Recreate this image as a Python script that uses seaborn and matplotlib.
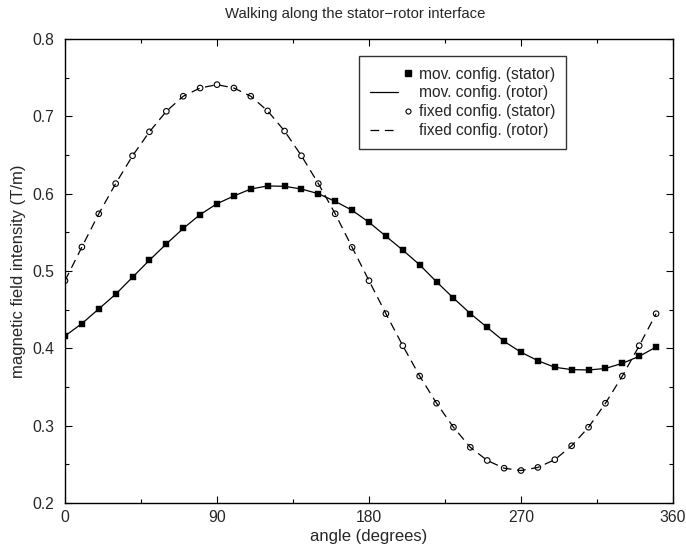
import numpy as np
import pandas as pd
import matplotlib
matplotlib.use("Agg")
import matplotlib.pyplot as plt
from matplotlib.lines import Line2D
from matplotlib.legend_handler import HandlerLine2D
from matplotlib.ticker import MultipleLocator
import seaborn as sns

# Sample angles along the interface (degrees)
angles = list(range(0, 360, 10))

# Moving configuration, field sampled on the stator side
mov_stator = [0.416, 0.432, 0.451, 0.470, 0.492, 0.514, 0.535, 0.555, 0.573, 0.587,
              0.597, 0.606, 0.610, 0.6095, 0.606, 0.600, 0.590, 0.5785, 0.563, 0.545,
              0.527, 0.508, 0.486, 0.465, 0.445, 0.427, 0.409, 0.395, 0.384, 0.3755,
              0.3725, 0.372, 0.374, 0.3806, 0.3897, 0.4017]
# Moving configuration, rotor side
mov_rotor = list(mov_stator)

# Fixed configuration, stator side
fixed_stator = [0.4875, 0.531, 0.574, 0.613, 0.649, 0.680, 0.7065, 0.726, 0.7366, 0.741,
                0.7366, 0.726, 0.707, 0.681, 0.649, 0.613, 0.574, 0.5306, 0.4875, 0.4448,
                0.4034, 0.3642, 0.329, 0.298, 0.272, 0.255, 0.245, 0.242, 0.246, 0.256,
                0.274, 0.298, 0.329, 0.3642, 0.4034, 0.4448]
# Fixed configuration, rotor side
fixed_rotor = list(fixed_stator)

labels = ["mov. config. (stator)", "mov. config. (rotor)",
          "fixed config. (stator)", "fixed config. (rotor)"]
x_ticks = [0, 90, 180, 270, 360]
y_ticks = [0.2, 0.3, 0.4, 0.5, 0.6, 0.7, 0.8]

sns.set_style("ticks")
plt.rcParams["font.family"] = ["Liberation Sans", "DejaVu Sans"]

df = pd.DataFrame({"angle": angles, "mov_stator": mov_stator, "mov_rotor": mov_rotor,
                   "fixed_stator": fixed_stator, "fixed_rotor": fixed_rotor})

fig = plt.figure(figsize=(6.86, 5.47), dpi=100)
ax = fig.add_axes([65 / 686, 44 / 547, 608 / 686, 464 / 547])

# Rotor curves
sns.lineplot(data=df, x="angle", y="mov_rotor", ax=ax, color="black", lw=0.9,
             linestyle="-", errorbar=None)
sns.lineplot(data=df, x="angle", y="fixed_rotor", ax=ax, color="black", lw=0.9,
             dashes=False, errorbar=None)
ax.lines[-1].set_dashes((7, 4.5))

# Stator samples
sns.scatterplot(data=df, x="angle", y="mov_stator", ax=ax, marker="s", s=18,
                color="black", edgecolor="black", linewidth=0.3, zorder=3)
sns.scatterplot(data=df, x="angle", y="fixed_stator", ax=ax, marker="o", s=16,
                facecolor="none", edgecolor="black", linewidth=0.8, zorder=3)

ax.set_xlim(0, 360)
ax.set_ylim(0.2, 0.8)
ax.set_xticks(x_ticks)
ax.set_xticklabels([str(t) for t in x_ticks])
ax.set_yticks(y_ticks)
ax.set_yticklabels([f"{t:.1f}" for t in y_ticks])
ax.xaxis.set_minor_locator(MultipleLocator(45))
ax.yaxis.set_minor_locator(MultipleLocator(0.05))
ax.tick_params(which="both", direction="in", top=True, right=True,
               labelsize=11.3, color="black", width=0.8)
ax.tick_params(which="major", length=5)
ax.tick_params(which="minor", length=3)
ax.tick_params(axis="x", which="major", pad=5)
ax.tick_params(axis="y", which="major", pad=7.5)
for sp in ax.spines.values():
    sp.set_visible(True)
    sp.set_linewidth(1.0)
    sp.set_color("black")

ax.set_xlabel("angle (degrees)", fontsize=12, labelpad=3)
ax.set_ylabel("magnetic field intensity (T/m)", fontsize=12, labelpad=5)
ax.set_title("Walking along the stator\u2212rotor interface", fontsize=10.7, pad=15,
             x=0.477)


class MarkerAtEnd(HandlerLine2D):
    # single marker drawn near the right end of the handle box
    def get_xdata(self, legend, xdescent, ydescent, width, height, fontsize):
        right = -xdescent + width
        xdata = np.array([right - 6, right])
        return xdata, np.array([right - 3])


class ShortLine(HandlerLine2D):
    # line sample that stops short of the label text
    def get_xdata(self, legend, xdescent, ydescent, width, height, fontsize):
        xdata = np.array([-xdescent, -xdescent + width - 10])
        return xdata, xdata


handles = [
    Line2D([], [], color="black", marker="s", markersize=3.8, linestyle="none"),
    Line2D([], [], color="black", lw=0.9, linestyle="-"),
    Line2D([], [], color="black", marker="o", markersize=3.6, markerfacecolor="none",
           markeredgewidth=0.8, linestyle="none"),
    Line2D([], [], color="black", lw=0.9, dashes=(7, 4.5)),
]
hmap = {handles[0]: MarkerAtEnd(numpoints=1), handles[1]: ShortLine(numpoints=2),
        handles[2]: MarkerAtEnd(numpoints=1), handles[3]: ShortLine(numpoints=2)}
leg = ax.legend(handles, labels, loc="upper left", bbox_to_anchor=(0.4836, 0.963),
                borderaxespad=0, fontsize=11.2, frameon=True, fancybox=False,
                handlelength=2.75, handletextpad=0.45, labelspacing=0.24,
                borderpad=0.68, handler_map=hmap)
leg.get_frame().set_edgecolor("black")
leg.get_frame().set_linewidth(1.0)

fig.savefig("out.png", dpi=100)
